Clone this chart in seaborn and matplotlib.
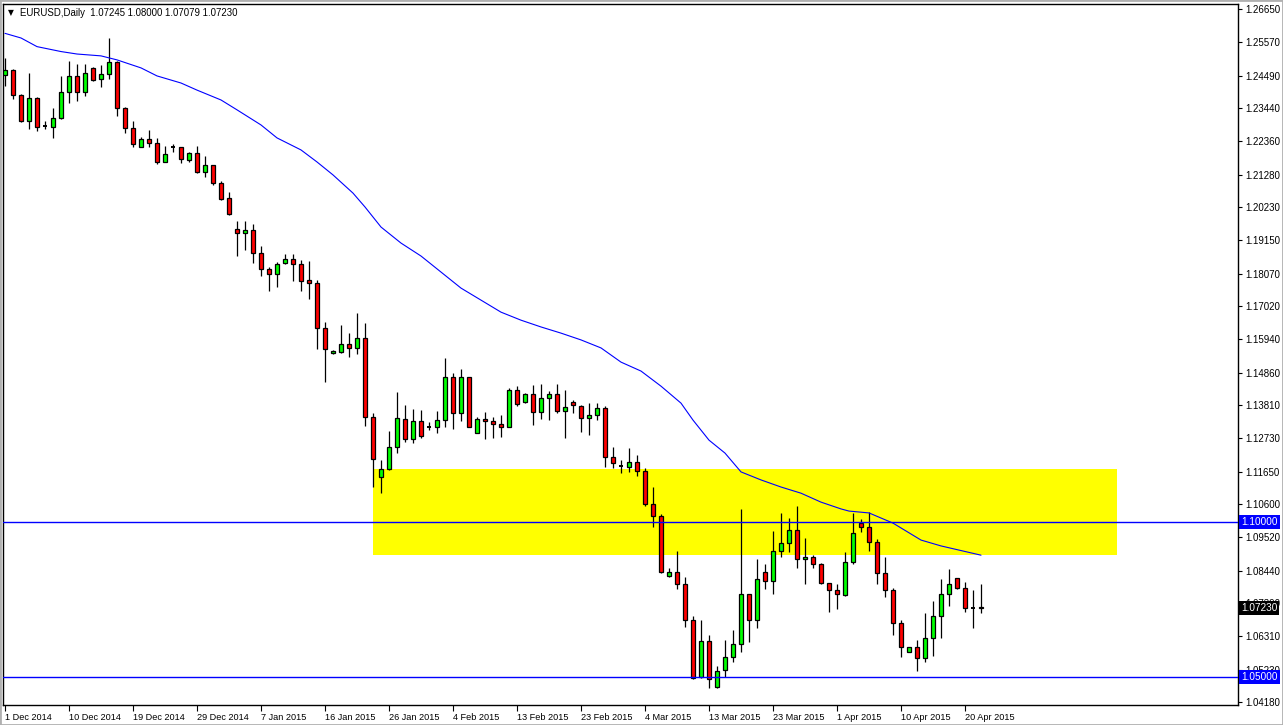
import numpy as np
import pandas as pd
import matplotlib
matplotlib.use("Agg")
import matplotlib.pyplot as plt
import matplotlib.transforms as mtransforms
from matplotlib.patches import Rectangle
import seaborn as sns

# ---------------- data ----------------
opens = [1.2451, 1.2467, 1.2386, 1.2303, 1.2376, 1.2287, 1.2283, 1.2312, 1.2396, 1.2448,
         1.2396, 1.2473, 1.2437, 1.2454, 1.2492, 1.2343, 1.2278, 1.2218, 1.2242, 1.2232,
         1.2170, 1.2218, 1.2217, 1.2174, 1.2197, 1.2137, 1.2158, 1.2100, 1.2051, 1.1951,
         1.1940, 1.1948, 1.1875, 1.1821, 1.1805, 1.1843, 1.1854, 1.1837, 1.1785, 1.1775,
         1.1630, 1.1548, 1.1554, 1.1578, 1.1565, 1.1597, 1.1341, 1.1146, 1.1172, 1.1244,
         1.1334, 1.1270, 1.1329, 1.1309, 1.1308, 1.1332, 1.1471, 1.1354, 1.1471, 1.1291,
         1.1335, 1.1330, 1.1318, 1.1310, 1.1429, 1.1392, 1.1416, 1.1359, 1.1403, 1.1416,
         1.1362, 1.1390, 1.1379, 1.1338, 1.1348, 1.1370, 1.1211, 1.1184, 1.1179, 1.1197,
         1.1167, 1.1059, 1.1022, 1.0827, 1.0838, 1.0799, 1.0684, 1.0498, 1.0615, 1.0465,
         1.0521, 1.0563, 1.0606, 1.0767, 1.0684, 1.0838, 1.0810, 1.0907, 1.0934, 1.0975,
         1.0881, 1.0887, 1.0864, 1.0803, 1.0781, 1.0765, 1.0871, 1.0999, 1.0984, 1.0938,
         1.0837, 1.0781, 1.0675, 1.0581, 1.0595, 1.0561, 1.0624, 1.0697, 1.0767, 1.0819,
         1.0786, 1.0723, 1.07245]
highs = [1.2506, 1.2470, 1.2388, 1.2458, 1.2381, 1.2303, 1.2344, 1.2448, 1.2496, 1.2487,
         1.2487, 1.2478, 1.2483, 1.2572, 1.2497, 1.2346, 1.2302, 1.2251, 1.2273, 1.2247,
         1.2221, 1.2226, 1.2219, 1.2202, 1.2221, 1.2188, 1.2159, 1.2106, 1.2072, 1.1978,
         1.1978, 1.1968, 1.1896, 1.1829, 1.1845, 1.1870, 1.1870, 1.1851, 1.1848, 1.1786,
         1.1650, 1.1560, 1.1640, 1.1615, 1.1678, 1.1646, 1.1354, 1.1202, 1.1297, 1.1422,
         1.1381, 1.1368, 1.1365, 1.1325, 1.1361, 1.1534, 1.1486, 1.1498, 1.1472, 1.1341,
         1.1357, 1.1343, 1.1348, 1.1435, 1.1442, 1.1419, 1.1446, 1.1448, 1.1426, 1.1448,
         1.1429, 1.1397, 1.1380, 1.1386, 1.1386, 1.1378, 1.1245, 1.1202, 1.1240, 1.1219,
         1.1176, 1.1114, 1.1027, 1.0854, 1.0907, 1.0824, 1.0697, 1.0684, 1.0635, 1.0534,
         1.0619, 1.0651, 1.1044, 1.0768, 1.0881, 1.0865, 1.0973, 1.1032, 1.1013, 1.1053,
         1.0949, 1.0894, 1.0868, 1.0805, 1.0800, 1.0905, 1.1030, 1.1010, 1.1035, 1.0945,
         1.0887, 1.0786, 1.0684, 1.0596, 1.0619, 1.0705, 1.0745, 1.0817, 1.0848, 1.0820,
         1.0808, 1.0781, 1.08000]
lows = [1.2415, 1.2373, 1.2299, 1.2275, 1.2270, 1.2275, 1.2247, 1.2308, 1.2361, 1.2368,
        1.2384, 1.2432, 1.2411, 1.2437, 1.2318, 1.2264, 1.2218, 1.2217, 1.2216, 1.2162,
        1.2168, 1.2202, 1.2167, 1.2170, 1.2133, 1.2121, 1.2094, 1.2046, 1.1998, 1.1865,
        1.1885, 1.1840, 1.1800, 1.1752, 1.1762, 1.1838, 1.1783, 1.1752, 1.1726, 1.1562,
        1.1456, 1.1547, 1.1551, 1.1537, 1.1545, 1.1314, 1.1114, 1.1096, 1.1171, 1.1224,
        1.1262, 1.1259, 1.1273, 1.1300, 1.1291, 1.1310, 1.1302, 1.1330, 1.1308, 1.1289,
        1.1270, 1.1273, 1.1278, 1.1308, 1.1378, 1.1389, 1.1316, 1.1335, 1.1332, 1.1354,
        1.1275, 1.1356, 1.1294, 1.1284, 1.1332, 1.1181, 1.1176, 1.1159, 1.1165, 1.1151,
        1.1054, 1.0986, 1.0835, 1.0822, 1.0783, 1.0662, 1.0491, 1.0495, 1.0462, 1.0462,
        1.0498, 1.0548, 1.0579, 1.0611, 1.0657, 1.0783, 1.0767, 1.0889, 1.0905, 1.0853,
        1.0799, 1.0851, 1.0801, 1.0710, 1.0718, 1.0763, 1.0865, 1.0970, 1.0908, 1.0800,
        1.0759, 1.0635, 1.0565, 1.0580, 1.0519, 1.0548, 1.0567, 1.0624, 1.0729, 1.0785,
        1.0710, 1.0659, 1.07079]
closes = [1.2467, 1.2386, 1.2303, 1.2376, 1.2282, 1.2287, 1.2312, 1.2396, 1.2448, 1.2396,
          1.2457, 1.2435, 1.2454, 1.2492, 1.2343, 1.2278, 1.2226, 1.2242, 1.2231, 1.2169,
          1.2194, 1.2218, 1.2178, 1.2197, 1.2137, 1.2158, 1.2100, 1.2050, 1.1999, 1.1940,
          1.1947, 1.1875, 1.1821, 1.1805, 1.1837, 1.1854, 1.1837, 1.1784, 1.1775, 1.1630,
          1.1561, 1.1556, 1.1578, 1.1565, 1.1597, 1.1341, 1.1205, 1.1172, 1.1244, 1.1338,
          1.1270, 1.1329, 1.1280, 1.1309, 1.1332, 1.1471, 1.1354, 1.1471, 1.1310, 1.1335,
          1.1330, 1.1318, 1.1310, 1.1429, 1.1384, 1.1416, 1.1359, 1.1403, 1.1416, 1.1362,
          1.1373, 1.1381, 1.1338, 1.1348, 1.1370, 1.1211, 1.1192, 1.1184, 1.1197, 1.1167,
          1.1059, 1.1022, 1.0838, 1.0838, 1.0799, 1.0684, 1.0495, 1.0615, 1.0491, 1.0518,
          1.0563, 1.0606, 1.0767, 1.0684, 1.0816, 1.0810, 1.0907, 1.0932, 1.0975, 1.0881,
          1.0887, 1.0865, 1.0803, 1.0781, 1.0768, 1.0871, 1.0965, 1.0984, 1.0938, 1.0837,
          1.0781, 1.0675, 1.0597, 1.0595, 1.0561, 1.0624, 1.0697, 1.0767, 1.0799, 1.0786,
          1.0722, 1.0723, 1.07230]

# 50-day moving average (bar index, value)
ma_bar = [0, 2, 4, 7, 9, 12, 14, 17, 19, 22, 24, 27, 29, 32, 34, 37, 39, 41, 43.5, 45,
          47, 49.5, 52, 54.5, 57, 59.5, 62, 64.5, 67, 69.5, 72, 74.5, 77, 79.5, 82, 84.5,
          86, 88, 90, 92, 94.5, 97, 99.5, 102, 104.5, 105.5, 108, 111, 114.5, 117, 122]
ma_val = [1.2586, 1.2571, 1.2543, 1.2527, 1.2519, 1.2513, 1.2500, 1.2474, 1.2448, 1.2425,
          1.2402, 1.2370, 1.2338, 1.2289, 1.2247, 1.2208, 1.2169, 1.2127, 1.2068, 1.2023,
          1.1958, 1.1906, 1.1864, 1.1812, 1.1760, 1.1721, 1.1682, 1.1656, 1.1634, 1.1614,
          1.1592, 1.1566, 1.1520, 1.1491, 1.1442, 1.1387, 1.1332, 1.1267, 1.1225, 1.1164,
          1.1138, 1.1115, 1.1095, 1.1066, 1.1044, 1.1037, 1.1031, 1.0998, 1.0943, 1.0924,
          1.0894]

date_tick_bars = [0, 8, 16, 24, 32, 40, 48, 56, 64, 72, 80, 88, 96, 104, 112, 120]
date_tick_labels = ['1 Dec 2014', '10 Dec 2014', '19 Dec 2014', '29 Dec 2014', '7 Jan 2015',
                    '16 Jan 2015', '26 Jan 2015', '4 Feb 2015', '13 Feb 2015', '23 Feb 2015',
                    '4 Mar 2015', '13 Mar 2015', '23 Mar 2015', '1 Apr 2015', '10 Apr 2015',
                    '20 Apr 2015']
price_ticks = [1.26650, 1.25570, 1.24490, 1.23440, 1.22360, 1.21280, 1.20230, 1.19150,
               1.18070, 1.17020, 1.15940, 1.14860, 1.13810, 1.12730, 1.11650, 1.10600,
               1.09520, 1.08440, 1.07390, 1.06310, 1.05230, 1.04180]

zone_bars = (46.0, 139.0)
zone_prices = (1.08946, 1.11734)
level_lines = [1.10000, 1.05000]
last_price = 1.07230
title_text = "EURUSD,Daily  1.07245 1.08000 1.07079 1.07230"

# ---------------- figure ----------------
sns.set_style("white")
plt.rcParams['font.family'] = ['Liberation Sans', 'DejaVu Sans']

W, H = 1283, 725
fig = plt.figure(figsize=(W / 100, H / 100), dpi=100)
fig.patch.set_facecolor('white')
ax = fig.add_axes([3 / W, 20 / H, 1235 / W, 701 / H])
ax.set_facecolor('white')

n = len(opens)
x = np.arange(n)
df = pd.DataFrame({'x': x, 'open': opens, 'high': highs, 'low': lows, 'close': closes})

# yellow zone
ax.add_patch(Rectangle((zone_bars[0], zone_prices[0]), zone_bars[1] - zone_bars[0],
                       zone_prices[1] - zone_prices[0], facecolor='#FFFF00',
                       edgecolor='none', zorder=0.5))

# wicks
ax.vlines(df['x'], df['low'], df['high'], color='black', linewidth=0.9, zorder=2)

# bodies
body_w = 0.6
up = df[df['close'] > df['open']]
dn = df[df['close'] < df['open']]
dj = df[df['close'] == df['open']]
ax.bar(up['x'], up['close'] - up['open'], bottom=up['open'], width=body_w,
       color='#00FF00', edgecolor='black', linewidth=0.9, zorder=3)
ax.bar(dn['x'], dn['open'] - dn['close'], bottom=dn['close'], width=body_w,
       color='#FF0000', edgecolor='black', linewidth=0.9, zorder=3)
ax.hlines(dj['open'], dj['x'] - body_w / 2, dj['x'] + body_w / 2, color='black',
          linewidth=1.4, zorder=3)

# moving average
sns.lineplot(x=ma_bar, y=ma_val, ax=ax, color='#0000FF', linewidth=0.8, zorder=4)

# horizontal levels
for lv in level_lines:
    ax.axhline(lv, color='#0000FF', linewidth=1.0, zorder=4)

ax.set_xlim(-0.25, 154.125)
ax.set_ylim(1.04082, 1.26812)

# axes styling
for s in ax.spines.values():
    s.set_color('black')
    s.set_linewidth(1.0)
ax.yaxis.tick_right()
ax.set_yticks(price_ticks)
ax.set_yticklabels([f"{p:.5f}" for p in price_ticks])
ax.set_xticks(date_tick_bars)
ax.set_xticklabels(date_tick_labels, ha='left')
ax.tick_params(axis='y', which='both', right=True, left=False, length=3, width=0.8,
               pad=2, labelsize=7, colors='black', direction='out')
ax.tick_params(axis='x', which='both', bottom=True, length=4, width=0.8, pad=2,
               labelsize=6.6, colors='black', direction='out')
ax.set_xlabel('')
ax.set_ylabel('')
ax.grid(False)

# price tags on the right
trans = mtransforms.blended_transform_factory(ax.transAxes, ax.transData)
for lv, fc in [(level_lines[0], '#0000FF'), (level_lines[1], '#0000FF'), (last_price, 'black')]:
    ax.text(1.0025, lv, f"{lv:.5f}", transform=trans, ha='left', va='center',
            fontsize=7.2, color='white', zorder=10, clip_on=False,
            bbox=dict(boxstyle='square,pad=0.2', facecolor=fc, edgecolor='none'))

# header text
fig.text(8 / W, 1 - 13 / H, '\u25BC', fontsize=5.5, color='black', ha='left', va='center',
         family=['DejaVu Sans'])
fig.text(20 / W, 1 - 13 / H, title_text, fontsize=6.9, color='black', ha='left', va='center')

# window frame
fig.patches.append(Rectangle((0, 0), 1, 1, transform=fig.transFigure, fill=False,
                             edgecolor='#b0b0b0', linewidth=2.0))

fig.savefig('out.png', dpi=100, facecolor='white')
